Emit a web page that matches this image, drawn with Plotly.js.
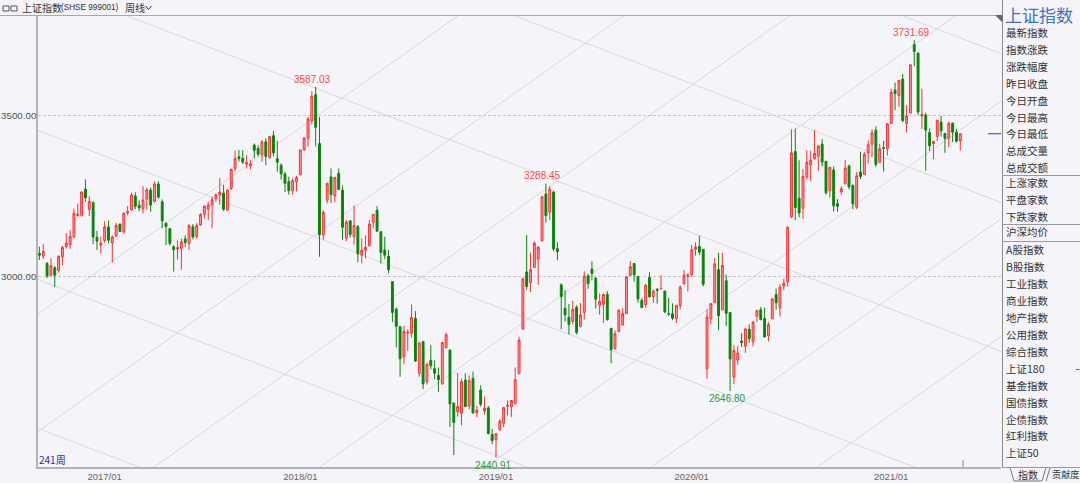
<!DOCTYPE html>
<html><head><meta charset="utf-8">
<script src="https://cdn.plot.ly/plotly-3.0.1.min.js"></script>
<style>html,body{margin:0;padding:0;background:#f4f4f9;overflow:hidden}#chart{width:1080px;height:483px}</style>
</head><body><div id="chart"></div>
<script>
// ---- weekly OHLC, SHSE 999001, week 1 = 2016-08-29 ... week 241 = 2021-05-10 ----
const openP = [
3072,3064,3041,3005,3028,3020,3062,3093,3100,3124,3189,3190,3271,3208,3230,3122,3098,
3112,3154,3105,3126,3163,3139,3198,3207,3250,3221,3210,3240,3268,3233,3287,3232,3165,3149,3093,3086,3088,3117,3103,3155,3125,3160,3193,3208,3222,3242,3253,3258,3206,3273,3335,3371,3366,3348,3343,3407,3397,3377,3417,3369,3436,3365,3345,3318,3294,3266,3294,
3315,3392,3428,3482,3563,3412,3130,3237,3309,3250,3320,3268,3119,3173,3124,3155,3067,3082,3096,3169,3206,3139,3083,3064,2985,2900,2846,2753,2826,2826,2872,2702,2800,2675,2742,2716,2695,2670,2781,2774,2609,2583,2578,2681,2601,2686,2580,2650,2585,2595,2513,
2497,2528,2547,2600,2598,2609,2701,2838,3015,2982,3029,3055,3111,3256,3200,3262,3087,2975,2903,2875,2862,2906,2847,2890,3003,3024,2996,2912,2915,2946,2841,2779,2831,2851,2886,3004,3041,3001,2927,2914,2998,2939,2962,2963,2956,2886,2886,2871,2911,2978,3002,3007,
3085,3094,3085,2716,2870,2920,3022,2898,2988,2890,2690,2743,2802,2786,2838,2799,2878,2898,2871,2818,2870,2945,2904,2971,2985,3185,3387,3243,3212,3309,3346,3365,3373,3410,3357,3266,3330,3226,3262,3287,3342,3283,3215,3324,3316,3383,3410,3453,3354,3399,3396,
3474,3577,3560,3611,3474,3506,3718,3691,3497,3500,3446,3412,3434,3478,3443,3427,3475,3447,3420];
const highP = [
3093,3101,3046,3057,3033,3066,3095,3135,3144,3211,3226,3264,3301,3249,3232,3142,3124,
3172,3174,3128,3167,3164,3197,3219,3260,3261,3236,3280,3274,3276,3295,3295,3239,3170,3150,3098,3112,3118,3128,3163,3163,3166,3197,3220,3232,3248,3258,3305,3284,3270,3334,3390,3392,3391,3376,3361,3412,3407,3422,3428,3435,3450,3420,3351,3324,3309,3304,3312,
3392,3430,3494,3573,3587.03,3494,3205,3290,3335,3309,3335,3282,3175,3174,3220,3160,3118,3128,3175,3194,3219,3141,3124,3083,2985,2905,2846,2848,2838,2915,2894,2800,2801,2735,2790,2742,2720,2797,2827,2774,2613,2703,2686,2702,2695,2707,2601,2665,2630,2601,2530,
2515,2560,2598,2618,2618,2720,2815,2998,3129,3075,3110,3095,3250,3288.45,3280,3266,3107,2980,2959,2916,2926,2912,2919,3017,3009,3048,2999,2948,2948,2956,2841,2834,2900,2903,3000,3048,3042,3003,2935,2978,3014,2961,2964,3005,2956,2935,2918,2912,2973,3021,3011,3098,
3107,3127,3085,2900,2917,3058,3074,3074,3007,2890,2788,2786,2826,2841,2853,2863,2898,2907,2905,2860,2935,2964,2977,2994,3156,3456,3458,3360,3333,3391,3390,3453,3407,3425,3357,3341,3341,3240,3280,3361,3347,3285,3324,3387,3386,3421,3456,3465,3411,3420,3474,
3581,3600,3607,3627,3530,3655,3731.69,3694,3581,3507,3458,3420,3484,3497,3444,3480,3476,3457,3443];
const lowP = [
3052,3055,2996,3001,2969,3013,3036,3088,3086,3119,3186,3186,3232,3188,3101,3083,3072,
3106,3103,3044,3123,3138,3133,3190,3204,3209,3203,3196,3207,3201,3230,3242,3150,3098,3096,3016,3053,3022,3093,3083,3116,3118,3158,3180,3175,3150,3232,3222,3203,3205,3268,3326,3356,3349,3335,3332,3366,3371,3356,3345,3365,3372,3325,3300,3262,3254,3254,3264,
3314,3390,3402,3470,3403,3062,3115,3227,3228,3230,3269,3115,3110,3121,3100,3045,3041,3057,3095,3150,3141,3041,3055,3011,2860,2782,2691,2730,2771,2812,2737,2691,2653,2667,2714,2684,2644,2666,2779,2536,2449,2568,2541,2597,2590,2578,2566,2599,2575,2513,2483,
2440.91,2524,2536,2572,2567,2605,2699,2838,2960,2953,3029,2975,3111,3168,3176,3079,3051,2838,2862,2822,2853,2822,2843,2868,2963,2989,2902,2883,2857,2864,2733,2774,2829,2851,2886,3004,2985,2920,2905,2904,2937,2919,2917,2962,2889,2879,2866,2857,2900,2977,2955,3000,
3065,3067,2970,2685,2853,2920,2835,2898,2848,2646.80,2669,2728,2783,2765,2796,2785,2860,2865,2813,2800,2870,2898,2878,2958,2970,3181,3175,3184,3180,3301,3296,3362,3328,3341,3254,3245,3202,3201,3253,3287,3270,3209,3209,3302,3316,3350,3370,3340,3353,3325,3375,
3472,3515,3525,3477,3446,3505,3651,3500,3457,3328,3389,3364,3420,3433,3383,3401,3416,3415,3390];
const closeP = [
3067,3078,3003,3034,3005,3064,3091,3104,3125,3196,3193,3262,3244,3233,3123,3110,3104,
3154,3113,3123,3159,3140,3197,3202,3253,3218,3213,3237,3269,3222,3287,3246,3173,3155,3103,3084,3090,3108,3106,3158,3123,3158,3192,3218,3222,3238,3253,3262,3209,3268,3332,3365,3365,3354,3353,3349,3391,3379,3417,3372,3433,3383,3354,3318,3289,3266,3297,3307,
3392,3429,3488,3558,3462,3130,3199,3289,3254,3307,3270,3153,3169,3131,3159,3071,3082,3091,3163,3193,3141,3075,3067,3022,2890,2847,2747,2831,2829,2874,2740,2795,2669,2729,2725,2702,2682,2797,2821,2607,2550,2599,2676,2599,2679,2579,2588,2606,2594,2516,2494,
2515,2554,2596,2602,2618,2682,2804,2994,2970,3022,3104,3091,3247,3189,3271,3086,3078,2939,2882,2853,2899,2828,2882,3002,2979,3011,2931,2924,2945,2868,2775,2824,2897,2886,3000,3031,3006,2932,2905,2974,2938,2955,2958,2964,2891,2885,2872,2912,2968,3005,3005,3084,
3092,3076,2977,2876,2917,3040,2880,3035,2887,2746,2772,2764,2797,2839,2809,2860,2895,2868,2814,2852,2931,2920,2968,2980,3153,3383,3214,3197,3310,3354,3360,3381,3404,3355,3260,3338,3219,3218,3272,3336,3278,3225,3312,3310,3378,3408,3445,3347,3395,3397,3473,
3570,3566,3607,3483,3496,3655,3696,3509,3502,3453,3405,3418,3484,3451,3427,3474,3447,3419,3442];

const weekIdx = openP.map((_, i) => i + 1);
const tickIdx = [18, 69, 120, 171, 223];
const tickText = ['2017/01', '2018/01', '2019/01', '2020/01', '2021/01'];
const yTicks = [3000, 3500];
const yTickText = ['3000.00', '3500.00'];
const weekCountLabel = weekIdx.length + '周';
// extremes labelled by the software: [from week, to week, 'high'|'low']
const markWindows = [[1, 100, 'high'], [100, 170, 'high'], [170, 241, 'high'], [100, 160, 'low'], [160, 200, 'low']];
const headerName = '上证指数';
const headerCode = '(SHSE 999001)';
const headerPeriod = '周线';
const panelTitle = '上证指数';
const panelGroups = [
  ['最新指数','指数涨跌','涨跌幅度','昨日收盘','今日开盘','今日最高','今日最低','总成交量','总成交额'],
  ['上涨家数','平盘家数','下跌家数'],
  ['沪深均价'],
  ['A股指数','B股指数','工业指数','商业指数','地产指数','公用指数','综合指数','上证180','基金指数','国债指数','企债指数','红利指数','上证50']
];
const tabLabels = ['指数', '贡献度'];

// ---- geometry (pixels) ----
const L = 38, R = 1001, T = 16, B = 467;
const xRange = [0.6351, 251.61];
const yRange = [2412.32, 3805.91];
const PX = px => (px - L) / (R - L);
const PY = py => (B - py) / (B - T);
const dX = px => xRange[0] + (px - L) / (R - L) * (xRange[1] - xRange[0]);
const dY = py => yRange[1] - (py - T) / (B - T) * (yRange[1] - yRange[0]);

const CJK = 'Noto Sans CJK SC, sans-serif';
const LAT = 'Liberation Sans, Arial, sans-serif';
const shapes = [], annotations = [];

// background fan / channel lines
function fanLine(y38, slope) {
  shapes.push({type: 'line', xref: 'x', yref: 'y', layer: 'below',
    x0: dX(L), y0: dY(y38), x1: dX(R), y1: dY(y38 + slope * (R - L)),
    line: {color: '#d9d9dc', width: 1}});
}
for (let k = -3; k <= 2; k++) fanLine(130.5 + 148.9 * k, 0.384);
for (let j = 0; j <= 6; j++) fanLine(314 + 117.7 * j, -0.71);

function pline(x0, y0, x1, y1, color, w) {
  shapes.push({type: 'line', xref: 'paper', yref: 'paper', x0: PX(x0), y0: PY(y0), x1: PX(x1), y1: PY(y1),
    line: {color: color, width: w || 1}});
}
function ppath(pts, color, fill) {
  const d = pts.map((p, i) => (i ? 'L' : 'M') + PX(p[0]).toFixed(5) + ',' + PY(p[1]).toFixed(5)).join(' ') + (fill ? ' Z' : '');
  shapes.push({type: 'path', xref: 'paper', yref: 'paper', path: d, line: {color: color, width: 1}, fillcolor: fill || 'rgba(0,0,0,0)'});
}
function txt(t, px, py, size, color, anchor, family) {
  annotations.push({xref: 'paper', yref: 'paper', x: PX(px), y: PY(py), text: t, showarrow: false,
    xanchor: anchor || 'left', yanchor: 'middle', borderpad: 0, font: {family: family || CJK, size: size, color: color}});
}

// header
pline(0, 15.5, 1002, 15.5, '#a9a9ad', 1);
shapes.push({type: 'rect', xref: 'paper', yref: 'paper', x0: PX(3), y0: PY(11), x1: PX(9), y1: PY(6), line: {color: '#555', width: 1}});
shapes.push({type: 'rect', xref: 'paper', yref: 'paper', x0: PX(11), y0: PY(11), x1: PX(17), y1: PY(6), line: {color: '#555', width: 1}});
txt(headerName, 21, 8, 10, '#333');
txt(headerCode, 60, 8, 8.2, '#333', 'left', LAT);
txt(headerPeriod, 124, 8, 10, '#333');
ppath([[145.5, 6], [148.5, 9.5], [151.5, 6]], '#333');

// right panel
pline(1002.5, 0, 1002.5, 467.5, '#8c8c90', 1);
ppath([[996, 15.5], [1002, 15.5], [1002, 21.5]], '#666', '#666');
txt(panelTitle, 1004, 14, 17, '#3d6fcb');
const groupStart = [32.5, 183, 232, 250];
panelGroups.forEach((g, gi) => g.forEach((s, i) => txt(s, 1005, groupStart[gi] + i * 16.9, 10.5, '#333')));
[175.5, 224.5, 241.5, 467.5].forEach(y => pline(1002, y, 1080, y, '#9a9a9e', 1));
ppath([[1010, 467.5], [1014, 481], [1042, 481], [1046, 467.5]], '#777');
ppath([[1046, 481], [1050, 468]], '#777');
txt(tabLabels[0], 1028, 474, 10, '#333', 'center');
txt(tabLabels[1], 1051, 474, 9.2, '#333');
pline(1076, 369.5, 1079.5, 369.5, '#e03030', 1);

// y tick labels (left, flush to the window edge)
yTicks.forEach((v, i) => annotations.push({xref: 'paper', yref: 'y', x: PX(0), y: v, text: yTickText[i],
  showarrow: false, xanchor: 'left', yanchor: 'middle', borderpad: 0, font: {family: LAT, size: 9.8, color: '#555'}}));

// chart decorations
txt(weekCountLabel, 38, 459, 10, '#2b2bb0');
pline(963, 460, 963, 467, '#8a8a8a', 1);
const lastClose = closeP[closeP.length - 1];
shapes.push({type: 'line', xref: 'x', yref: 'y', x0: dX(988), x1: dX(1001), y0: lastClose, y1: lastClose,
  line: {color: '#2b3fd6', width: 1}});

// extreme value labels
markWindows.forEach(([a, b, kind]) => {
  let best = a - 1;
  for (let i = a - 1; i < b; i++) {
    if (kind === 'high' ? highP[i] > highP[best] : lowP[i] < lowP[best]) best = i;
  }
  const v = kind === 'high' ? highP[best] : lowP[best];
  annotations.push({xref: 'x', yref: 'y', x: weekIdx[best], y: v, text: v.toFixed(2), showarrow: false,
    xanchor: 'center', yanchor: kind === 'high' ? 'bottom' : 'top', xshift: -3,
    font: {family: LAT, size: 10, color: kind === 'high' ? '#ff4848' : '#2f9a3a'}});
});

const trace = {
  type: 'candlestick', x: weekIdx, open: openP, high: highP, low: lowP, close: closeP,
  increasing: {line: {color: '#ff2e2e', width: 1}, fillcolor: 'rgba(255,125,125,0.75)'},
  decreasing: {line: {color: '#0b870b', width: 1}, fillcolor: '#0a7f0a'},
  whiskerwidth: 0, hoverinfo: 'skip', showlegend: false
};

const layout = {
  width: 1080, height: 483,
  margin: {l: L, r: 1080 - R, t: T, b: 483 - B, pad: 0},
  paper_bgcolor: '#f4f4f9', plot_bgcolor: '#f4f4f9',
  showlegend: false, dragmode: false,
  xaxis: {range: xRange, type: 'linear', tickmode: 'array', tickvals: tickIdx, ticktext: tickText,
    showgrid: false, zeroline: false, showline: true, linecolor: '#b3b3b7', linewidth: 2, ticks: '',
    tickfont: {family: LAT, size: 9.5, color: '#666'}, rangeslider: {visible: false}, fixedrange: true},
  yaxis: {range: yRange, tickmode: 'array', tickvals: yTicks, showticklabels: false,
    showgrid: true, gridcolor: '#c6c6ca', griddash: '3px,2px', gridwidth: 1,
    zeroline: false, showline: true, linecolor: '#b3b3b7', linewidth: 2, ticks: '', fixedrange: true},
  shapes: shapes, annotations: annotations
};

Plotly.newPlot('chart', [trace], layout, {displayModeBar: false, staticPlot: true});
</script>
</body></html>
